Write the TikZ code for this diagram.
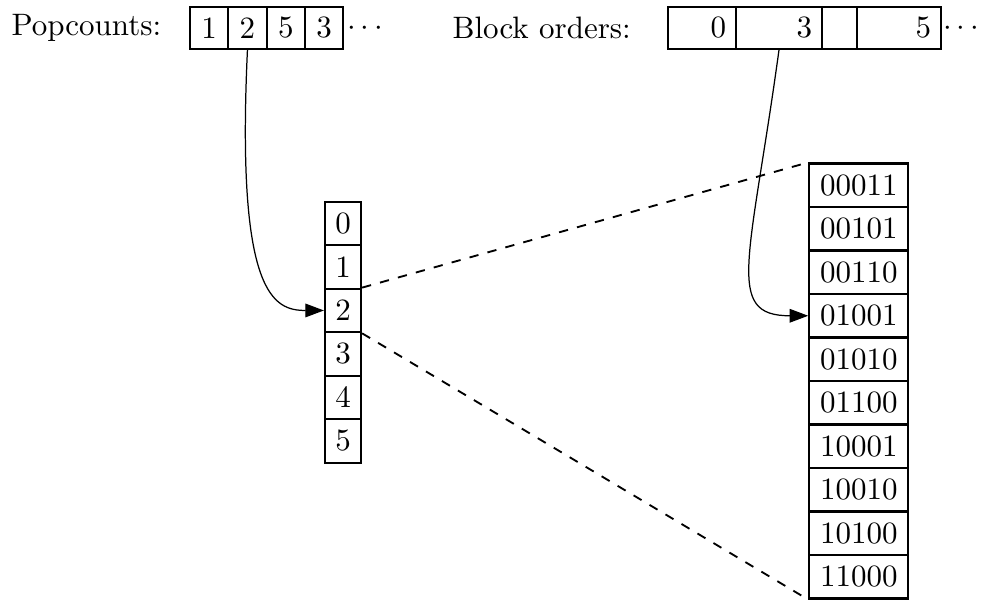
\documentclass[tikz,border=0pt]{standalone}
\usetikzlibrary{arrows.meta}
\newcommand\pxu{0.3226pt}
\begin{document}
\begin{tikzpicture}[x=0.3226pt,y=-0.3226pt,
  cellbox/.style={draw, line width=0.7pt, inner sep=0pt, minimum height=43.5*\pxu},
  topcell/.style={draw, line width=0.7pt, inner sep=0pt, minimum height=41.5*\pxu},
  celltext/.style={anchor=east, inner sep=3.33pt},
  lbl/.style={anchor=west, inner sep=0pt},
  dotsnode/.style={anchor=base west, inner sep=0pt},
  conn/.style={line width=0.4pt, -{Triangle[length=6pt,width=4.4pt]}},
  zoomline/.style={line width=0.6pt, dashed}]
\useasboundingbox (0,0) rectangle (989,599);

% Popcounts
\node[lbl] (plabel) at (11,28) {Popcounts:};
\foreach \v [count=\i from 0] in {1,2,5,3} {
  \node[topcell, minimum width=38.3*\pxu] (p\i) at ({190+38.3*(\i+0.5)},28) {\v};
}
\node[dotsnode] (pdots) at (346.4,35.75) {$\cdots$};

% Block orders
\node[lbl] (blabel) at (452,28) {Block orders:};
\node[topcell, minimum width=68*\pxu] (b0) at (702,28) {};
\node[topcell, minimum width=86*\pxu] (b1) at (779,28) {};
\node[topcell, minimum width=35*\pxu] (b2) at (839.5,28) {};
\node[topcell, minimum width=84*\pxu] (b3) at (899,28) {};
\node[celltext] (t0) at (b0.east) {0};
\node[celltext] (t1) at (b1.east) {3};
\node[celltext] (t3) at (b3.east) {5};
\node[dotsnode] (bdots) at (942.4,35.75) {$\cdots$};

% Left column
\foreach \v [count=\i from 0] in {0,1,2,3,4,5} {
  \node[cellbox, minimum width=36*\pxu] (l\i) at (343,{201.7+43.5*(\i+0.5)}) {\v};
}

% Right column
\foreach \v [count=\i from 0] in {00011,00101,00110,01001,01010,01100,10001,10010,10100,11000} {
  \node[cellbox, minimum width=99*\pxu] (r\i) at (858.8,{163.5+43.5*(\i+0.5)}) {\v};
}

% Dashed zoom lines
\draw[zoomline] (l2.north east) -- (r0.north west);
\draw[zoomline] (l2.south east) -- (r9.south west);

% Arrows
\draw[conn] (p1.south) .. controls +(-11.5,246) and +(-50,0) .. (l2.west);
\draw[conn] (b1.south) .. controls +(-29,211.5) and +(-84,0) .. (r3.west);
\end{tikzpicture}
\end{document}
